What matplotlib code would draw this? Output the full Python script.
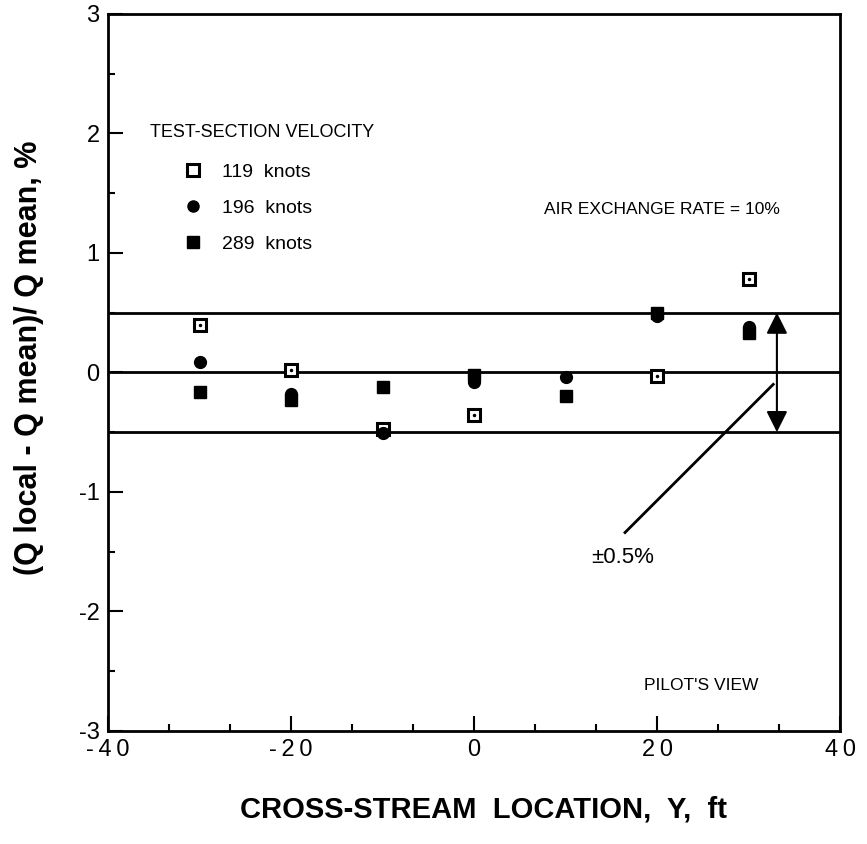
import matplotlib
matplotlib.use("Agg")
import matplotlib.pyplot as plt
from matplotlib.ticker import MultipleLocator, FuncFormatter

plt.rcParams['font.family'] = ['Liberation Sans', 'DejaVu Sans']
plt.rcParams['axes.unicode_minus'] = False

# Data
y_locations = [-30, -20, -10, 0, 20, 30]
v119 = [0.40, 0.02, -0.47, -0.36, -0.03, 0.78]

y_loc_196 = [-30, -20, -10, 0, 10, 20, 30]
v196 = [0.09, -0.18, -0.51, -0.08, -0.04, 0.47, 0.38]

y_loc_289 = [-30, -20, -10, 0, 10, 20, 30]
v289 = [-0.16, -0.23, -0.12, -0.02, -0.20, 0.50, 0.33]

band_levels = [0.5, 0.0, -0.5]
labels = ['119  knots', '196  knots', '289  knots']

fig = plt.figure(figsize=(8.67, 8.44), dpi=100)
ax = fig.add_axes([0.1246, 0.134, 0.8443, 0.8495])

for lv in band_levels:
    ax.axhline(lv, color='black', lw=2.0, zorder=1)

h1, = ax.plot(y_locations, v119, ls='none', marker='s', ms=8, mfc='white',
              mec='black', mew=2.2, zorder=3, label=labels[0])
ax.plot(y_locations, v119, ls='none', marker='.', ms=3, color='black', zorder=4)
h2, = ax.plot(y_loc_196, v196, ls='none', marker='o', ms=8.5, color='black',
              zorder=3, label=labels[1])
h3, = ax.plot(y_loc_289, v289, ls='none', marker='s', ms=8, color='black',
              zorder=3, label=labels[2])

ax.set_xlim(-40, 40)
ax.set_ylim(-3, 3)
ax.xaxis.set_major_locator(MultipleLocator(20))
ax.xaxis.set_minor_locator(MultipleLocator(20 / 3))
ax.yaxis.set_major_locator(MultipleLocator(1))
ax.yaxis.set_minor_locator(MultipleLocator(0.5))
ax.xaxis.set_major_formatter(FuncFormatter(lambda v, p: '\u2009'.join(f'{v:.0f}')))
ax.yaxis.set_major_formatter(FuncFormatter(lambda v, p: f'{v:.0f}'))
ax.tick_params(which='both', direction='in', top=False, right=False, width=1.5)
ax.tick_params(which='major', length=11, labelsize=17, pad=6)
ax.tick_params(which='minor', length=5)
for s in ax.spines.values():
    s.set_linewidth(2.0)

ax.set_xlabel('CROSS-STREAM  LOCATION,  Y,  ft', fontsize=21, fontweight='bold')
ax.xaxis.set_label_coords(0.513, -0.09)
ax.set_ylabel('(Q local - Q mean)/ Q mean, %', fontsize=22, fontweight='bold')
ax.yaxis.set_label_coords(-0.088, 0.52)

ax.text(0.057, 0.834, 'TEST-SECTION VELOCITY', transform=ax.transAxes,
        fontsize=13, ha='left', va='center')
leg = ax.legend(handles=[h1, h2, h3], loc='upper left',
                bbox_to_anchor=(0.092, 0.803), frameon=False, fontsize=14,
                handlelength=1.0, handletextpad=1.0, labelspacing=0.95,
                borderaxespad=0)
for lh in leg.legend_handles:
    lh.set_markersize(8)

ax.text(20.5, 1.36, 'AIR EXCHANGE RATE = 10%', fontsize=12.5, ha='center', va='center')
ax.text(24.8, -2.62, "PILOT'S VIEW", fontsize=12.5, ha='center', va='center')
ax.text(16.2, -1.55, '±0.5%', fontsize=16, ha='center', va='center')

ax.annotate('', xy=(33.1, 0.5), xytext=(33.1, -0.5),
            arrowprops=dict(arrowstyle='<|-|>', color='black', lw=1.5,
                            mutation_scale=32, shrinkA=0, shrinkB=0))
ax.plot([16.5, 32.7], [-1.34, -0.10], color='black', lw=2.0)

fig.savefig('out.png', dpi=100)
